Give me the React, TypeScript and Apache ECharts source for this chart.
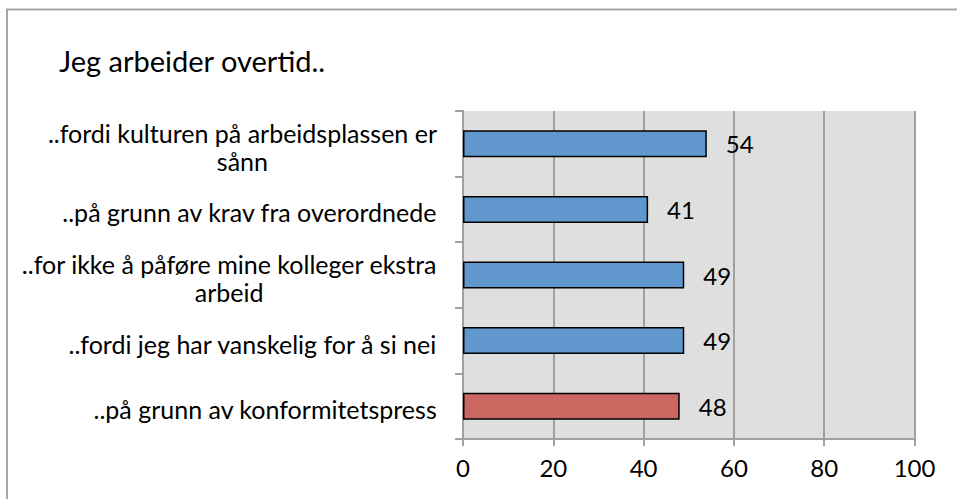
import React, { useEffect, useRef } from "react";
import * as echarts from "echarts";

const title = "Jeg arbeider overtid..";
const categories = [
  "..fordi kulturen på arbeidsplassen er\nsånn",
  "..på grunn av krav fra overordnede",
  "..for ikke å påføre mine kolleger ekstra\narbeid",
  "..fordi jeg har vanskelig for å si nei",
  "..på grunn av konformitetspress",
];
const values = [54, 41, 49, 49, 48];
const barColors = ["#6097CC", "#6097CC", "#6097CC", "#6097CC", "#CC6661"];
const xMin = 0;
const xMax = 100;
const xStep = 20;

const FONT = "Lato, 'Liberation Sans', sans-serif";

export default function App() {
  const ref = useRef<HTMLDivElement>(null);
  useEffect(() => {
    if (!ref.current) return;
    const chart = echarts.init(ref.current, undefined, { renderer: "svg" });
    chart.setOption({
      animation: false,
      backgroundColor: "#FFFFFF",
      title: {
        text: title,
        left: 54,
        top: 41,
        textStyle: { fontFamily: FONT, fontSize: 29, fontWeight: "normal", color: "#000" },
      },
      graphic: [
        {
          type: "polyline",
          shape: { points: [[7, 499], [7, 9.5], [957, 9.5]] },
          style: { stroke: "#A6A6A6", lineWidth: 2, fill: "none" },
          silent: true,
        },
      ],
      grid: {
        left: 463,
        right: 42.5,
        top: 111,
        bottom: 60,
        show: true,
        backgroundColor: "#DFDFDF",
        borderWidth: 0,
      },
      xAxis: {
        type: "value",
        min: xMin,
        max: xMax,
        interval: xStep,
        axisLine: { show: true, lineStyle: { color: "#A0A0A0", width: 2 } },
        axisTick: { show: true, length: 7, lineStyle: { color: "#A0A0A0", width: 2 } },
        splitLine: { show: true, lineStyle: { color: "#A0A0A0", width: 2 } },
        axisLabel: { fontFamily: FONT, fontSize: 24, color: "#000", margin: 16 },
      },
      yAxis: {
        type: "category",
        data: categories,
        inverse: true,
        axisLine: { show: true, lineStyle: { color: "#A0A0A0", width: 2 } },
        axisTick: { show: true, length: 8, lineStyle: { color: "#A0A0A0", width: 2 } },
        axisLabel: {
          margin: 26,
          padding: [6, 0, 0, 0],
          formatter: (v: string) =>
            v
              .split("\n")
              .map((l) => `{c|${l}}`)
              .join("\n"),
          rich: {
            c: {
              align: "center",
              fontFamily: FONT,
              fontSize: 25,
              lineHeight: 28.5,
              color: "#000",
            },
          },
        },
      },
      series: [
        {
          type: "bar",
          data: values.map((v, i) => ({
            value: v,
            itemStyle: { color: barColors[i] },
          })),
          barWidth: 27,
          itemStyle: { borderColor: "#000", borderWidth: 1.5 },
          label: {
            show: true,
            position: "right",
            distance: 19,
            fontFamily: FONT,
            fontSize: 24,
            color: "#000",
          },
        },
      ],
    });
    return () => chart.dispose();
  }, []);
  return (
    <div
      ref={ref}
      style={{ position: "absolute", left: 0, top: 0, width: 957, height: 499 }}
    />
  );
}
